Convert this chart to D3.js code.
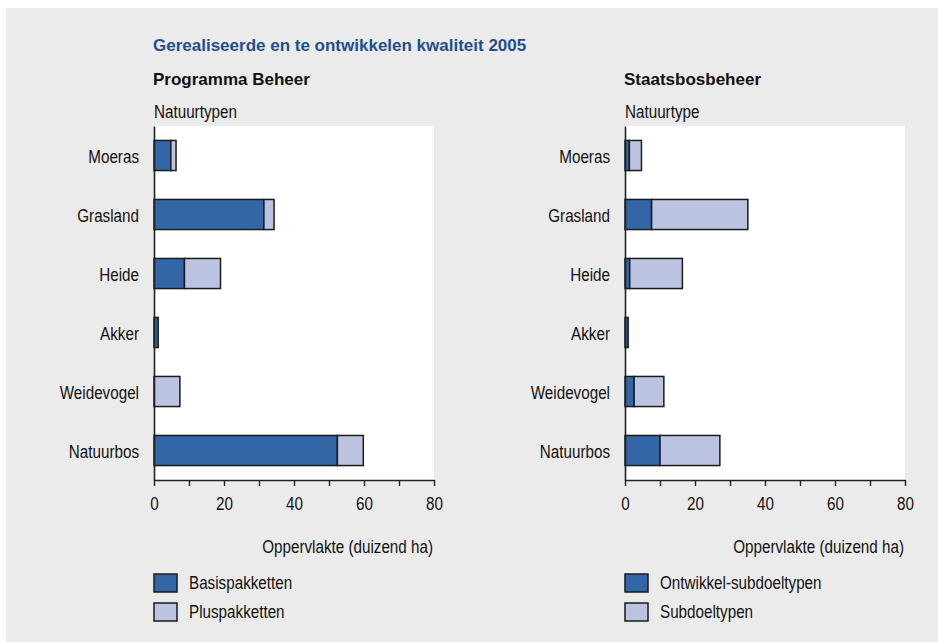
<!DOCTYPE html>
<html>
<head>
<meta charset="utf-8">
<script src="https://cdn.jsdelivr.net/npm/d3@7"></script>
<style>
  body { margin: 0; background: #fff; }
  svg text { font-family: "Liberation Sans", Arial, sans-serif; fill: #111; }
</style>
</head>
<body>
<svg id="chart" width="938" height="642"></svg>
<script>
// data (duizend ha)
const categories = ["Moeras", "Grasland", "Heide", "Akker", "Weidevogel", "Natuurbos"]
const pbBasis = [4.8, 31.4, 8.7, 1.2, 0, 52.4]
const pbPlus = [1.5, 2.9, 10.3, 0, 7.4, 7.4]
const sbbOntwikkel = [1.25, 7.6, 1.35, 0.9, 2.6, 10.0]
const sbbSub = [3.45, 27.5, 15.05, 0, 8.5, 17.1]
const xTicks = [0, 10, 20, 30, 40, 50, 60, 70, 80]

const title = "Gerealiseerde en te ontwikkelen kwaliteit 2005"
const panels = [
  {name: "Programma Beheer", sub: "Natuurtypen", x0: 154,
   series: [pbBasis, pbPlus], legend: ["Basispakketten", "Pluspakketten"]},
  {name: "Staatsbosbeheer", sub: "Natuurtype", x0: 625,
   series: [sbbOntwikkel, sbbSub], legend: ["Ontwikkel-subdoeltypen", "Subdoeltypen"]}
]

const colors = ["#3366a6", "#bcc3e0"]
const plotW = 280, plotTop = 126, plotBottom = 480
const narrow = 0.87, bodySize = "17.5px"

// small stand-in for d3-selection-multi
d3.selection.prototype.attrs = function(obj) {
  for (let k in obj) this.attr(k, obj[k])
  return this
}

// the original uses a condensed face: squeeze regular text horizontally
function condense(sel) {
  sel.each(function() {
    let t = d3.select(this),
        x = +t.attr("x") || 0,
        y = +t.attr("y") || 0
    t.attr("x", null).attr("y", null).attr("dy", null)
      .attr("transform", `translate(${x},${y}) scale(${narrow},1)`)
      .style("font-size", bodySize)
  })
  return sel
}

let svg = d3.select("#chart")

svg.append("rect")
  .attrs({x: 6, y: 8, width: 932, height: 634, fill: "#ebebeb"})

svg.append("text")
  .attrs({x: 153, y: 51})
  .style("font-size", "17px").style("font-weight", "bold").style("fill", "#1d4f91")
  .text(title)

panels.forEach(p => draw_panel(p))

function draw_panel(p) {
  let g = svg.append("g")

  let x = d3.scaleLinear().domain([0, 80]).range([p.x0, p.x0 + plotW])
  let y = d3.scaleBand().domain(categories)
    .range([plotTop, plotBottom])
    .paddingInner(0.49).paddingOuter(0.245)

  g.append("text").attrs({x: p.x0 - 1, y: 85})
    .style("font-size", "17px").style("font-weight", "bold")
    .text(p.name)
  g.append("text").attrs({x: p.x0, y: 118})
    .text(p.sub)
    .call(condense)

  g.append("rect")
    .attrs({x: p.x0, y: plotTop, width: plotW, height: plotBottom - plotTop, fill: "#fff"})

  let rows = categories.map((c, i) => ({cat: c, a: p.series[0][i], b: p.series[1][i]}))
  let stacked = d3.stack().keys(["a", "b"])(rows)

  g.selectAll("g.layer")
    .data(stacked).enter()
    .append("g").attr("class", "layer")
    .attr("fill", (d, i) => colors[i])
    .selectAll("rect")
    .data(d => d.filter(s => s[1] - s[0] > 0)).enter()
    .append("rect")
    .attrs({
      x: d => x(d[0]),
      y: d => y(d.data.cat),
      width: d => x(d[1]) - x(d[0]),
      height: y.bandwidth(),
      stroke: "#1b1b1b",
      "stroke-width": 1.5
    })

  // bottom axis
  let xa = g.append("g")
    .attr("transform", `translate(0,${plotBottom})`)
    .call(d3.axisBottom(x).tickValues(xTicks).tickSize(6).tickSizeOuter(0)
      .tickFormat(d => d % 20 == 0 ? d : ""))
  xa.select(".domain").attrs({stroke: "#222", "stroke-width": 1.6})
  xa.selectAll(".tick line").attrs({stroke: "#222", "stroke-width": 1.4})
  xa.selectAll(".tick text")
    .attr("font-family", null).attr("fill", "#111")
    .attr("y", 30)
    .call(condense)

  // left axis
  let ya = g.append("g")
    .attr("transform", `translate(${p.x0},0)`)
    .call(d3.axisLeft(y).tickSize(0))
  ya.select(".domain").attrs({stroke: "#222", "stroke-width": 1.6})
  ya.selectAll(".tick text")
    .attr("font-family", null).attr("fill", "#111")
    .attr("x", -15).attr("y", 7)
    .call(condense)

  g.append("text")
    .attrs({x: p.x0 + plotW - 1, y: 553, "text-anchor": "end"})
    .text("Oppervlakte (duizend ha)")
    .call(condense)

  // legend
  let lg = g.selectAll("g.legend")
    .data(p.legend).enter()
    .append("g").attr("class", "legend")
    .attr("transform", (d, i) => `translate(${p.x0},${574 + i * 29})`)
  lg.append("rect")
    .attrs({x: 0, y: 0, width: 23, height: 18, fill: (d, i) => colors[i],
            stroke: "#1b1b1b", "stroke-width": 1.5})
  lg.append("text")
    .attrs({x: 35, y: 15})
    .text(d => d)
    .call(condense)
}
</script>
</body>
</html>
